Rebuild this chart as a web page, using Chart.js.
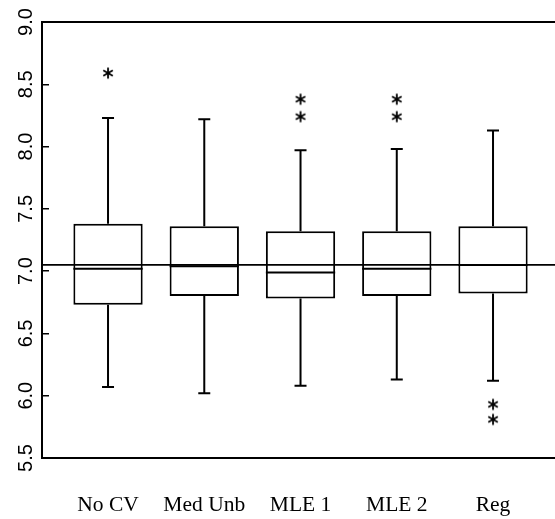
<!DOCTYPE html>
<html>
<head>
<meta charset="utf-8">
<script src="https://cdn.jsdelivr.net/npm/chart.js@4.4.1/dist/chart.umd.min.js"></script>
<style>
  html, body { margin: 0; padding: 0; background: #fff; }
  #wrap { width: 555px; height: 519px; position: relative; }
</style>
</head>
<body>
<div id="wrap"><canvas id="boxes"></canvas></div>
<script>
// estimators compared
const cats = ['No CV', 'Med Unb', 'MLE 1', 'MLE 2', 'Reg'];
// box plot summaries
const lowWhisk = [6.07, 6.02, 6.08, 6.13, 6.12];
const q1 = [6.73, 6.80, 6.78, 6.80, 6.82];
const median = [7.02, 7.04, 6.99, 7.02, 7.05];
const q3 = [7.38, 7.36, 7.32, 7.32, 7.36];
const highWhisk = [8.23, 8.22, 7.97, 7.98, 8.13];
// outliers (category index, value)
const outCat = [0, 2, 2, 3, 3, 4, 4];
const outVal = [8.59, 8.38, 8.24, 8.38, 8.24, 5.93, 5.81];
const refValue = 7.05;
const yTicks = [5.5, 6.0, 6.5, 7.0, 7.5, 8.0, 8.5, 9.0];

// asterisk marker like the printed one
function asterisk() {
    const c = document.createElement('canvas');
    c.width = 14; c.height = 14;
    const g = c.getContext('2d');
    g.strokeStyle = '#000';
    g.lineWidth = 1.8;
    [90, 30, 150].forEach(a => {
        const r = a * Math.PI / 180;
        g.beginPath();
        g.moveTo(7 - 5.5 * Math.cos(r), 7 - 5.5 * Math.sin(r));
        g.lineTo(7 + 5.5 * Math.cos(r), 7 + 5.5 * Math.sin(r));
        g.stroke();
    });
    return c;
}

const whiskers = {
    id: 'whiskers',
    afterDatasetsDraw(chart) {
        const { ctx, chartArea } = chart;
        const xs = chart.scales.x, ys = chart.scales.y;
        const bars = chart.getDatasetMeta(0).data;
        ctx.save();
        ctx.strokeStyle = '#000';
        ctx.lineWidth = 2;
        cats.forEach((c, i) => {
            const x = xs.getPixelForValue(i + 1);
            const half = bars[i].width / 2;
            ctx.beginPath();
            ctx.moveTo(x, ys.getPixelForValue(q3[i]));
            ctx.lineTo(x, ys.getPixelForValue(highWhisk[i]));
            ctx.moveTo(x - 6, ys.getPixelForValue(highWhisk[i]));
            ctx.lineTo(x + 6, ys.getPixelForValue(highWhisk[i]));
            ctx.moveTo(x, ys.getPixelForValue(q1[i]));
            ctx.lineTo(x, ys.getPixelForValue(lowWhisk[i]));
            ctx.moveTo(x - 6, ys.getPixelForValue(lowWhisk[i]));
            ctx.lineTo(x + 6, ys.getPixelForValue(lowWhisk[i]));
            ctx.moveTo(x - half, ys.getPixelForValue(median[i]));
            ctx.lineTo(x + half, ys.getPixelForValue(median[i]));
            ctx.stroke();
        });
        // reference line, plus frame running off the right edge
        const right = chart.width;
        ctx.lineWidth = 1.6;
        const yr = ys.getPixelForValue(refValue);
        ctx.beginPath();
        ctx.moveTo(chartArea.left, yr);
        ctx.lineTo(right, yr);
        ctx.stroke();
        ctx.lineWidth = 2;
        const bottom = Math.round(chartArea.bottom);
        ctx.beginPath();
        ctx.moveTo(chartArea.left, chartArea.top);
        ctx.lineTo(right, chartArea.top);
        ctx.moveTo(chartArea.right - 2, bottom);
        ctx.lineTo(right, bottom);
        ctx.stroke();
        ctx.restore();
    }
};

new Chart(document.getElementById('boxes'), {
    type: 'bar',
    data: {
        datasets: [{
            data: cats.map((c, i) => ({ x: i + 1, y: [q1[i], q3[i]] })),
            backgroundColor: '#fff',
            borderColor: '#000',
            borderWidth: 2,
            borderSkipped: false,
            categoryPercentage: 1,
            barPercentage: 0.72
        }, {
            type: 'scatter',
            data: outCat.map((c, i) => ({ x: c + 1, y: outVal[i] })),
            pointStyle: asterisk(),
            showLine: false
        }]
    },
    options: {
        responsive: true,
        maintainAspectRatio: false,
        animation: false,
        layout: { padding: { top: 22, right: 0, left: 0, bottom: 0 } },
        plugins: { legend: { display: false }, tooltip: { enabled: false } },
        scales: {
            x: {
                type: 'linear',
                offset: false,
                min: 0.314,
                max: 5.592,
                afterBuildTicks: s => { s.ticks = cats.map((c, i) => ({ value: i + 1 })); },
                afterFit: s => { s.height = 61; s.paddingRight = 0; s.paddingLeft = 0; },
                ticks: {
                    callback: v => cats[v - 1],
                    color: '#000',
                    padding: 34,
                    maxRotation: 0,
                    autoSkip: false,
                    font: { family: 'Liberation Serif', size: 21.5 }
                },
                grid: { drawOnChartArea: false, drawTicks: false },
                border: { color: '#000', width: 2 }
            },
            y: {
                min: 5.5,
                max: 9.0,
                afterBuildTicks: s => { s.ticks = yTicks.map(v => ({ value: v })); },
                afterFit: s => { s.width = 42; },
                ticks: {
                    callback: v => v.toFixed(1),
                    color: '#000',
                    minRotation: 90,
                    maxRotation: 90,
                    crossAlign: 'center',
                    padding: 9,
                    font: { family: 'Liberation Sans', size: 20 }
                },
                grid: { drawOnChartArea: false, drawTicks: true, tickLength: -7, color: '#000', lineWidth: 1.5 },
                border: { color: '#000', width: 2 }
            }
        }
    },
    plugins: [whiskers]
});
</script>
</body>
</html>
